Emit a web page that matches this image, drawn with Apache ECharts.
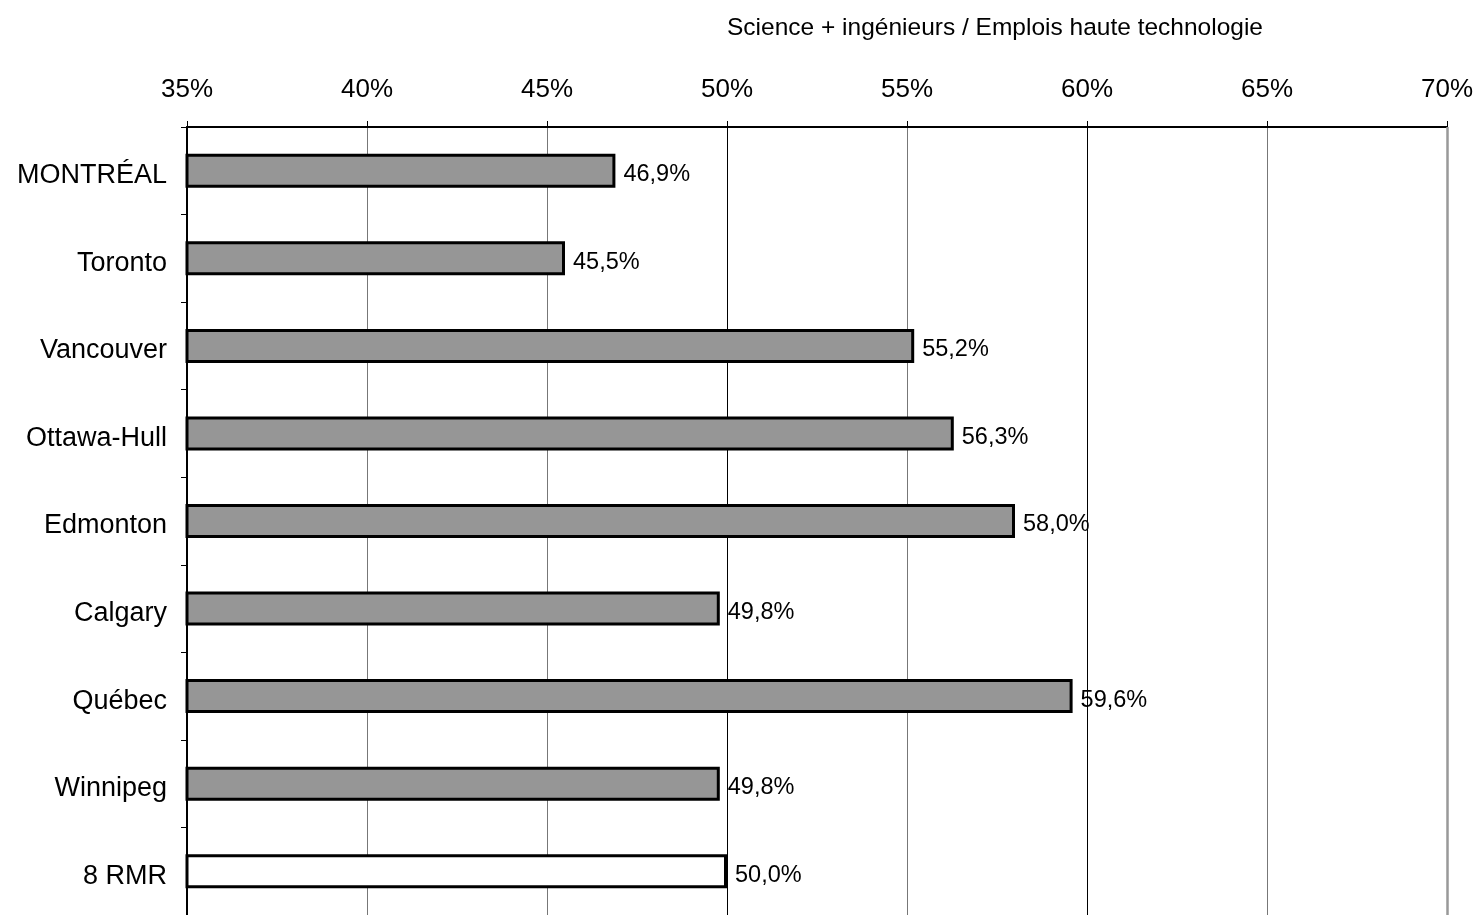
<!DOCTYPE html>
<html>
<head>
<meta charset="utf-8">
<script src="https://cdn.jsdelivr.net/npm/echarts@6/dist/echarts.min.js"></script>
<style>
html,body{margin:0;padding:0;background:#fff;}
#chart{width:1481px;height:915px;}
</style>
</head>
<body>
<div id="chart"></div>
<script>
const categories = ['MONTRÉAL','Toronto','Vancouver','Ottawa-Hull','Edmonton','Calgary','Québec','Winnipeg','8 RMR'];
const values = [46.9, 45.5, 55.2, 56.3, 58.0, 49.8, 59.6, 49.8, 50.0];
const barColors = ['#969696','#969696','#969696','#969696','#969696','#969696','#969696','#969696','#ffffff'];
const axisTitle = 'Science + ingénieurs / Emplois haute technologie';

const chart = echarts.init(document.getElementById('chart'));
const font = 'Liberation Sans, Arial, sans-serif';
chart.setOption({
  animation: false,
  backgroundColor: '#fff',
  graphic: [{
    type: 'text', x: 995, y: 28,
    style: { text: axisTitle, font: '24.5px ' + font, fill: '#000', align: 'center', verticalAlign: 'middle' }
  }],
  grid: { left: 187, right: 34, top: 127, height: 792, containLabel: false },
  xAxis: {
    type: 'value', position: 'top', min: 35, max: 70, interval: 5,
    axisLine: { show: true, lineStyle: { color: '#000', width: 2 } },
    axisTick: { show: true, length: 6, lineStyle: { color: '#000' } },
    axisLabel: { formatter: v => v + '%', fontSize: 26, color: '#000', fontFamily: font, margin: 24 },
    splitLine: { show: true, lineStyle: { color: ['#000','#777','#777','#000','#777','#000','#777','#999'], width: 1 } }
  },
  yAxis: {
    type: 'category', data: categories, inverse: true,
    axisLine: { show: true, lineStyle: { color: '#000', width: 2 } },
    axisTick: { show: true, length: 6, lineStyle: { color: '#000' } },
    axisLabel: { fontSize: 27, color: '#000', fontFamily: font, margin: 20, verticalAlign: 'top', lineHeight: 10 }
  },
  series: [{
    type: 'bar',
    barWidth: 34,
    data: values.map((v, i) => ({ value: v, itemStyle: { color: barColors[i] } })),
    itemStyle: { borderColor: '#000', borderWidth: 3 },
    label: {
      show: true, position: 'right', distance: 8, offset: [0, 4],
      formatter: p => p.value.toFixed(1).replace('.', ',') + '%',
      fontSize: 23.5, color: '#000', fontFamily: font
    },
    markLine: {
      silent: true, symbol: 'none', label: { show: false },
      lineStyle: { color: '#999', width: 2.5, type: 'solid' },
      data: [{ xAxis: 70 }]
    }
  }]
});
</script>
</body>
</html>
